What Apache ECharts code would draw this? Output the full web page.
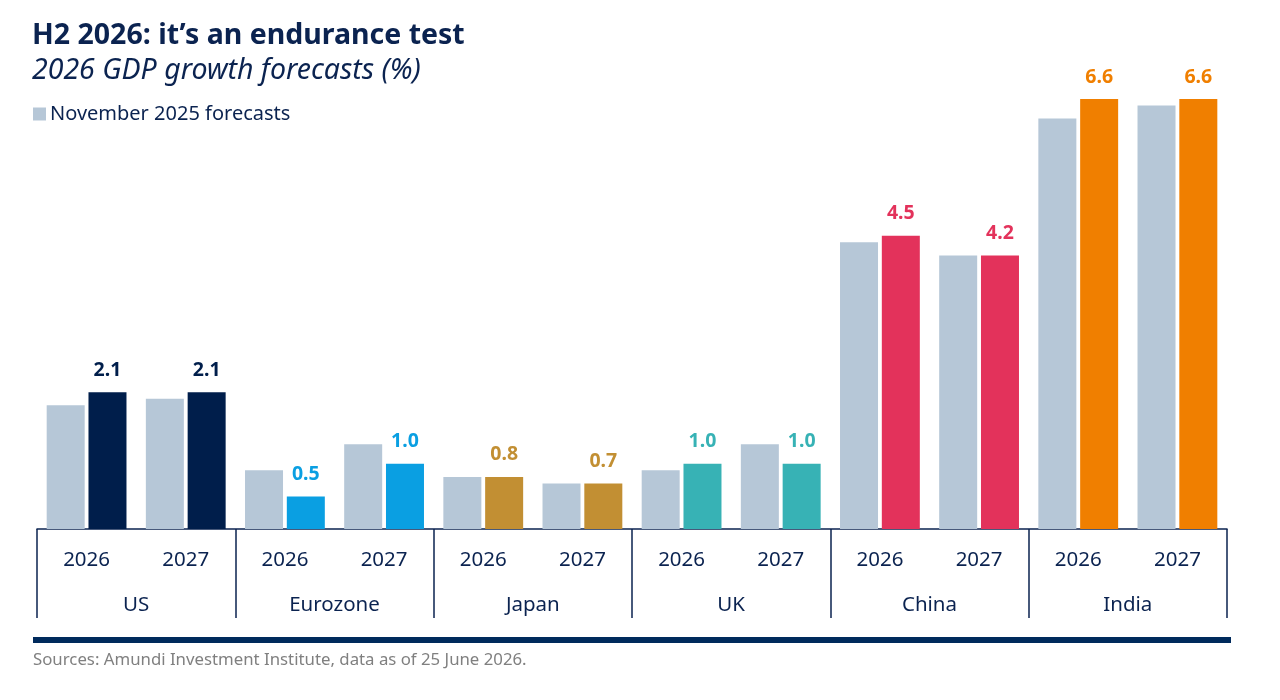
<!DOCTYPE html>
<html>
<head>
<meta charset="utf-8">
<script src="https://cdn.jsdelivr.net/npm/echarts@6/dist/echarts.min.js"></script>
<style>
  html, body { margin: 0; padding: 0; background: #fff; }
  #chart { width: 1280px; height: 700px; }
</style>
</head>
<body>
<div id="chart"></div>
<script>
var regions = ['US', 'Eurozone', 'Japan', 'UK', 'China', 'India']
var years = ['2026', '2027']
var novForecasts = [1.9, 2.0, 0.9, 1.3, 0.8, 0.7, 0.9, 1.3, 4.4, 4.2, 6.3, 6.5]
var latestForecasts = [2.1, 2.1, 0.5, 1.0, 0.8, 0.7, 1.0, 1.0, 4.5, 4.2, 6.6, 6.6]
var regionColors = ['#001e4b', '#0a9fe2', '#c28f33', '#37b2b5', '#e3325b', '#f07f00']

var navy = '#0b2350'
var font = 'Noto Sans'

var yearLabels = []
regions.forEach(function () {
  years.forEach(function (y) { yearLabels.push(y) })
})

var latestData = latestForecasts.map(function (v, i) {
  var c = regionColors[Math.floor(i / years.length)]
  return {
    value: v,
    itemStyle: { color: c },
    label: { color: c }
  }
})

var chart = echarts.init(document.getElementById('chart'))
chart.setOption({
  textStyle: { fontFamily: font },
  title: {
    text: 'H2 2026: it\u2019s an endurance test',
    subtext: '2026 GDP growth forecasts (%)',
    left: 27,
    top: 16,
    itemGap: 6,
    textStyle: { color: navy, fontSize: 28.5, fontWeight: 'bold', fontFamily: font },
    subtextStyle: { color: navy, fontSize: 28.5, fontStyle: 'italic', fontFamily: font }
  },
  legend: {
    data: ['November 2025 forecasts'],
    left: 28,
    top: 99,
    icon: 'rect',
    itemWidth: 13,
    itemHeight: 13,
    itemGap: 4,
    textStyle: { color: navy, fontSize: 20, fontFamily: font, padding: [0, 0, 0, -1] }
  },
  grid: { left: 37, right: 53, top: 73, bottom: 171 },
  xAxis: [
    {
      type: 'category',
      data: yearLabels,
      axisLine: { lineStyle: { color: navy, width: 1.5 } },
      axisTick: { show: false },
      axisLabel: { color: navy, fontSize: 20.5, margin: 21 }
    },
    {
      type: 'category',
      data: regions,
      position: 'bottom',
      axisLine: { show: false },
      axisTick: { show: true, length: 89, lineStyle: { color: navy, width: 1.5 } },
      axisLabel: { color: navy, fontSize: 20.5, margin: 66 }
    }
  ],
  yAxis: {
    type: 'value',
    min: 0,
    max: 7,
    show: false,
    splitLine: { show: false }
  },
  series: [
    {
      name: 'November 2025 forecasts',
      type: 'bar',
      data: novForecasts,
      barWidth: 38,
      barGap: '10%',
      itemStyle: { color: '#b6c7d7' }
    },
    {
      name: 'Latest forecasts',
      type: 'bar',
      data: latestData,
      barWidth: 38,
      barGap: '10%',
      label: {
        show: true,
        position: 'top',
        distance: 12,
        fontSize: 19.5,
        fontWeight: 'bold',
        fontFamily: font,
        formatter: function (p) { return p.value.toFixed(1) }
      }
    }
  ],
  graphic: [
    {
      type: 'rect',
      shape: { x: 33, y: 637, width: 1198, height: 6 },
      style: { fill: '#002a5c' }
    },
    {
      type: 'text',
      left: 33,
      top: 652,
      style: {
        text: 'Sources: Amundi Investment Institute, data as of 25 June 2026.',
        fill: '#808080',
        fontSize: 16.8,
        fontFamily: font
      }
    }
  ]
})
</script>
</body>
</html>
